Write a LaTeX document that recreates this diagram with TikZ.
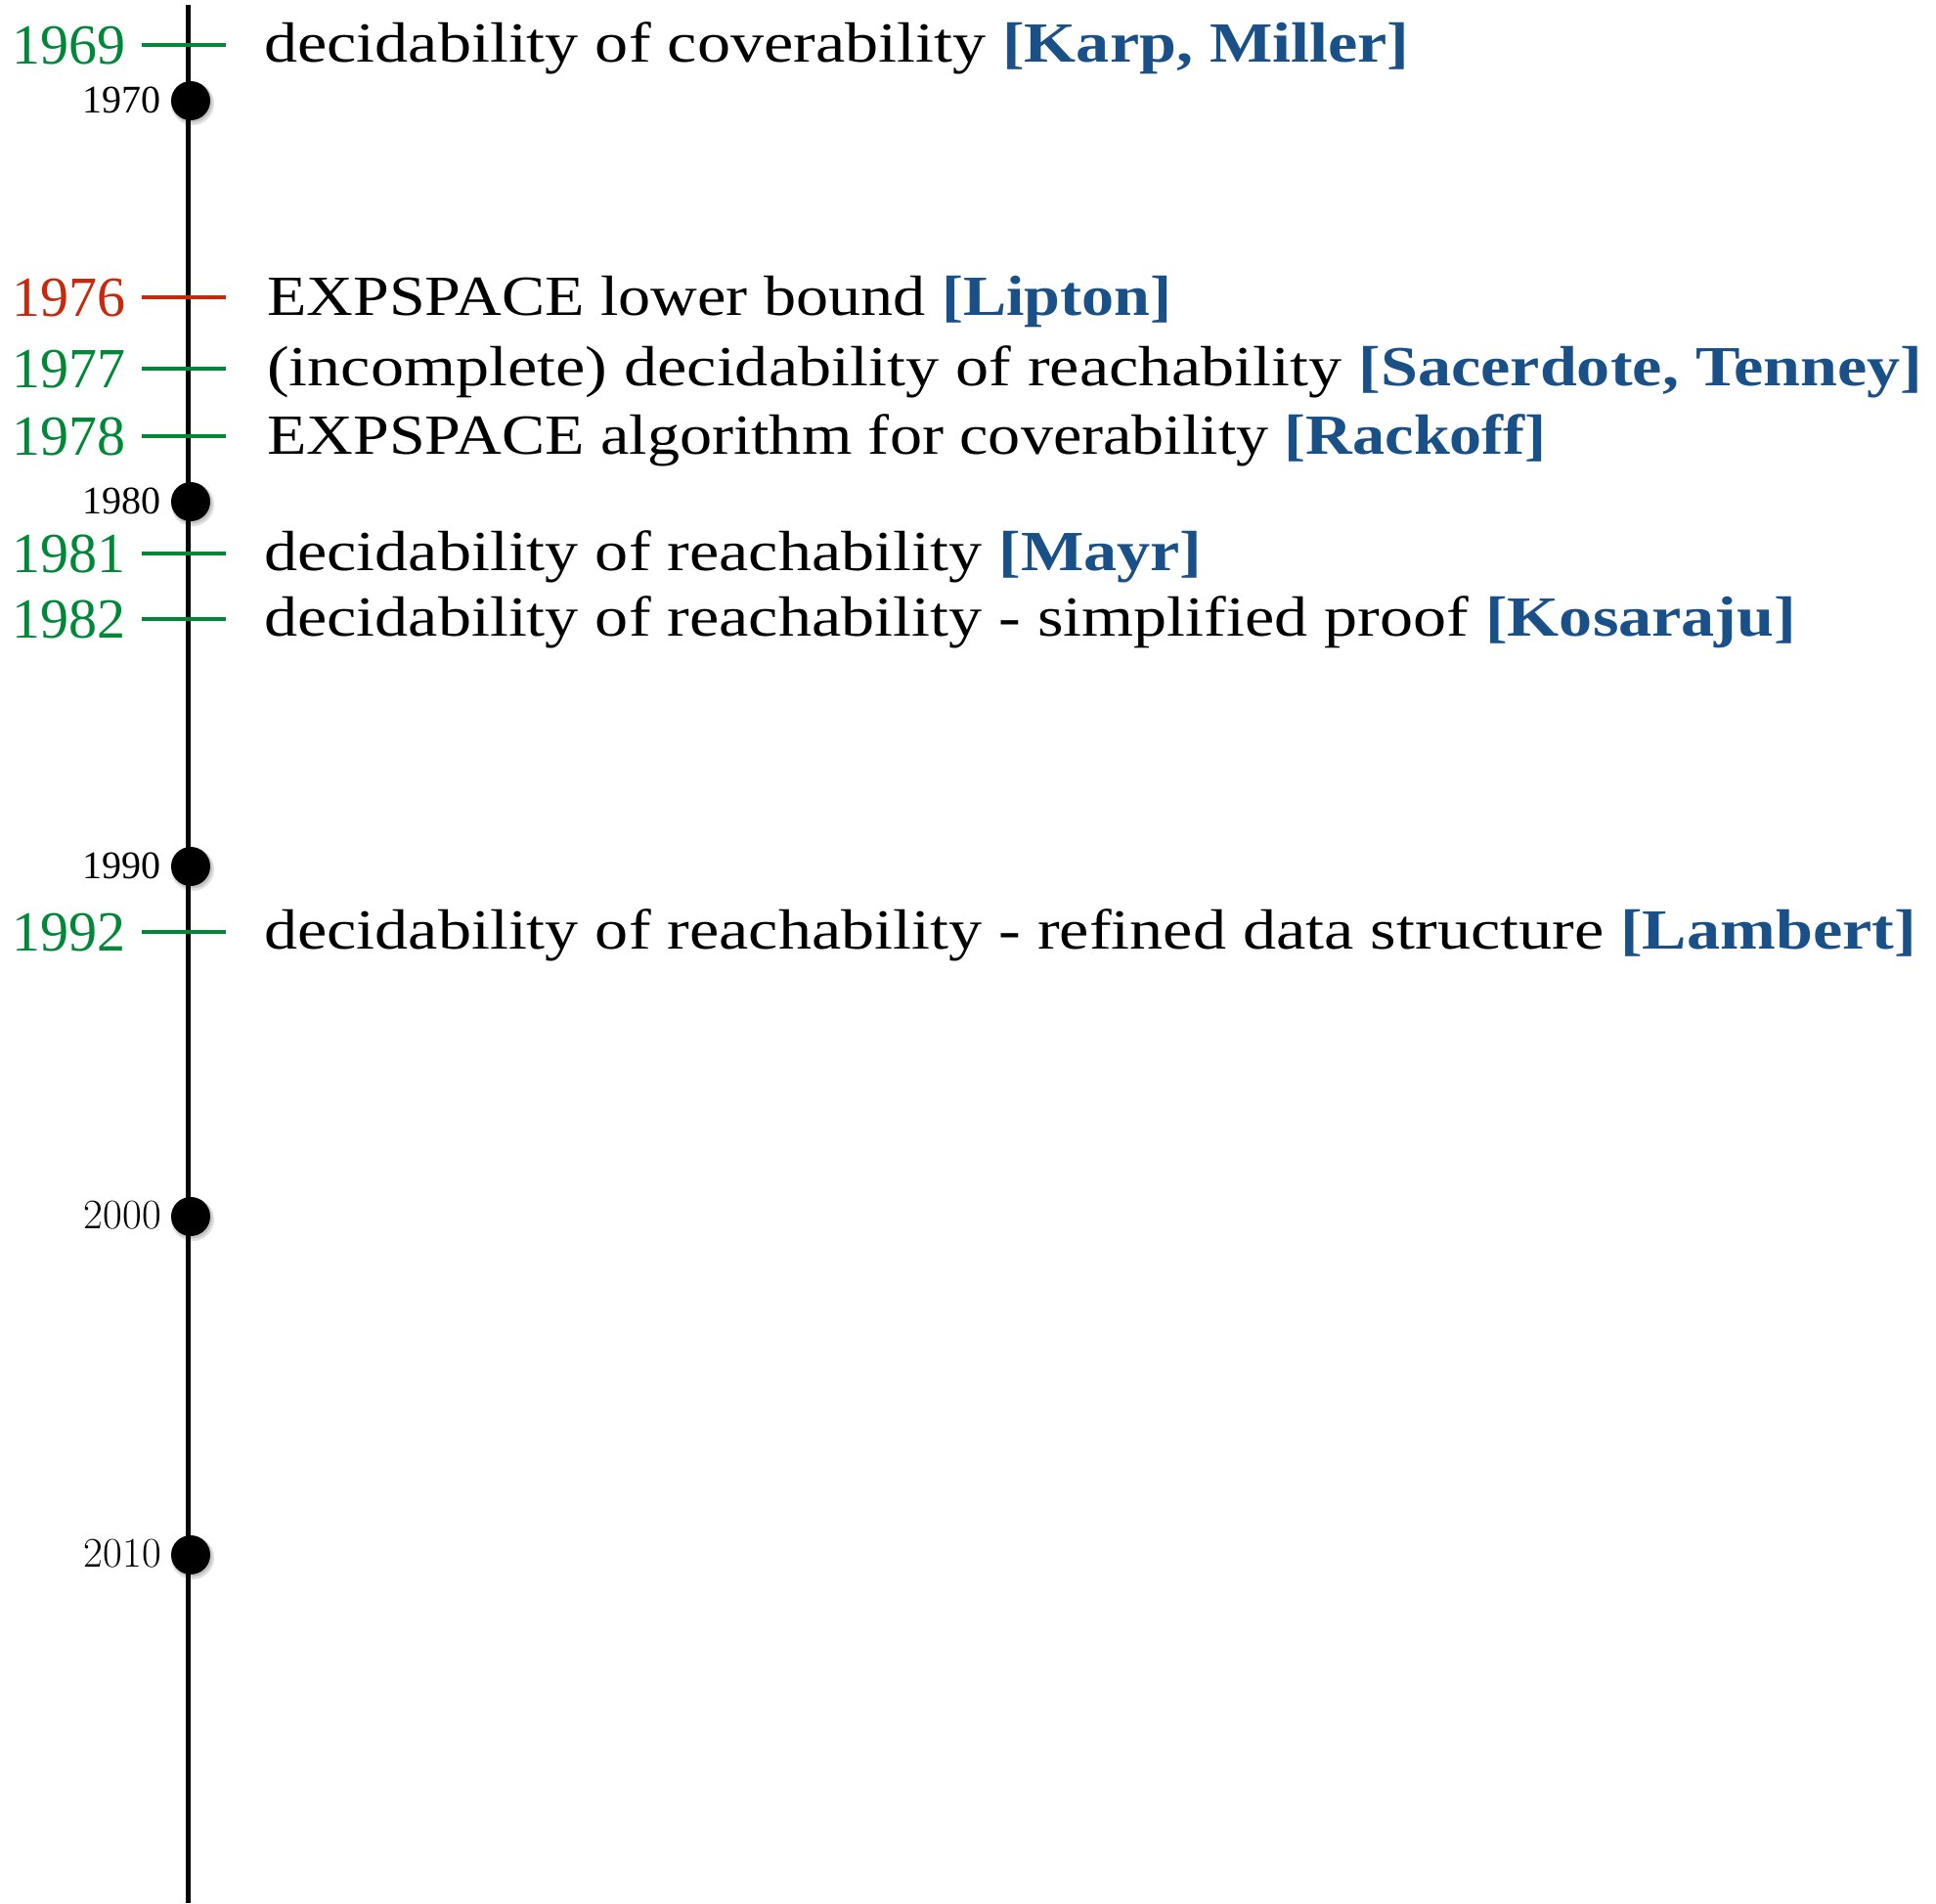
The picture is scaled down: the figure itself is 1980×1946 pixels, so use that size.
\documentclass[tikz,border=0pt]{standalone}
\usepackage{fontspec}
\setmainfont{Liberation Serif}
\newfontfamily\lmfont{Latin Modern Roman}
% descriptions are set a little wider than the year labels
\newfontfamily\evfont[FakeStretch=1.175]{Liberation Serif}
\newfontfamily\evcapsfont[FakeStretch=1.14]{Liberation Serif}
\usetikzlibrary{calc}

\definecolor{yeargreen}{RGB}{0,136,56}
\definecolor{yearred}{RGB}{200,40,12}
\definecolor{refblue}{RGB}{26,80,136}

\newcommand{\refto}[1]{\textbf{\color{refblue}[#1]}}

\tikzset{
  axis/.style={line width=4.5pt, black},
  tickgreen/.style={line width=4pt, yeargreen},
  tickred/.style={line width=4pt, yearred},
  yeargreenlbl/.style={anchor=base east, inner sep=0pt, text=yeargreen, font=\fontsize{58}{60}\selectfont},
  yearredlbl/.style={anchor=base east, inner sep=0pt, text=yearred, font=\fontsize{58}{60}\selectfont},
  eventtext/.style={anchor=base west, inner sep=0pt, font=\fontsize{58}{60}\selectfont\evfont},
  eventcaps/.style={eventtext, font=\fontsize{58}{60}\selectfont\evcapsfont},
  decade/.style={circle, fill=black, minimum size=40pt, inner sep=0pt},
  decadeshadow/.style={circle, fill=black, minimum size=#1, inner sep=0pt, fill opacity=0.12},
  decadelbl/.style={anchor=base east, inner sep=0pt},
}

\begin{document}
\begin{tikzpicture}[x=1pt, y=-1pt]
  \useasboundingbox (0,0) rectangle (1980,1946);
  \fill[white] (0,0) rectangle (1980,1946);

  % time axis
  \coordinate (axtop) at (192.5,5);
  \coordinate (axbot) at (192.5,1946);
  \draw[axis] (axtop) -- (axbot);

  % decade markers
  \foreach \nm/\yy/\lbl/\fnt in {d70/103/1970/\fontsize{40}{42}\selectfont,
                                 d80/513/1980/\fontsize{40}{42}\selectfont,
                                 d90/886/1990/\fontsize{40}{42}\selectfont,
                                 d00/1244/2000/\fontsize{43}{45}\selectfont\lmfont,
                                 d10/1590/2010/\fontsize{43}{45}\selectfont\lmfont}{
    \node[decadeshadow=44pt] at (197,\yy+3) {};
    \node[decadeshadow=41pt] at (196.5,\yy+2) {};
    \node[decade] (\nm) at (195,\yy) {};
    \node[decadelbl, font=\fnt] (\nm l) at (165,\yy+12) {\lbl};
  }

  % events: year, tick, description
  \foreach \nm/\yy/\yr/\col in {e69/46/1969/green, e76/304/1976/red, e77/377/1977/green,
                                e78/446/1978/green, e81/566/1981/green, e82/633/1982/green,
                                e92/953/1992/green}{
    \coordinate (\nm a) at (145,\yy);
    \coordinate (\nm b) at (231,\yy);
    \draw[tick\col] (\nm a) -- (\nm b);
    \node[year\col lbl] (\nm y) at (129,\yy+19) {\yr};
  }

  \node[eventtext] (e69t) at (270,46+17) {decidability of coverability \refto{Karp, Miller}};
  \node[eventcaps] (e76t) at (273,304+18) {EXPSPACE lower bound \refto{Lipton}};
  \node[eventtext] (e77t) at (273,377+17) {(incomplete) decidability of reachability \refto{Sacerdote, Tenney}};
  \node[eventcaps] (e78t) at (273,446+18) {EXPSPACE algorithm for coverability \refto{Rackoff}};
  \node[eventtext] (e81t) at (270,566+17) {decidability of reachability \refto{Mayr}};
  \node[eventtext] (e82t) at (270,633+17) {decidability of reachability - simplified proof \refto{Kosaraju}};
  \node[eventtext] (e92t) at (270,953+17) {decidability of reachability - refined data structure \refto{Lambert}};
\end{tikzpicture}
\end{document}
